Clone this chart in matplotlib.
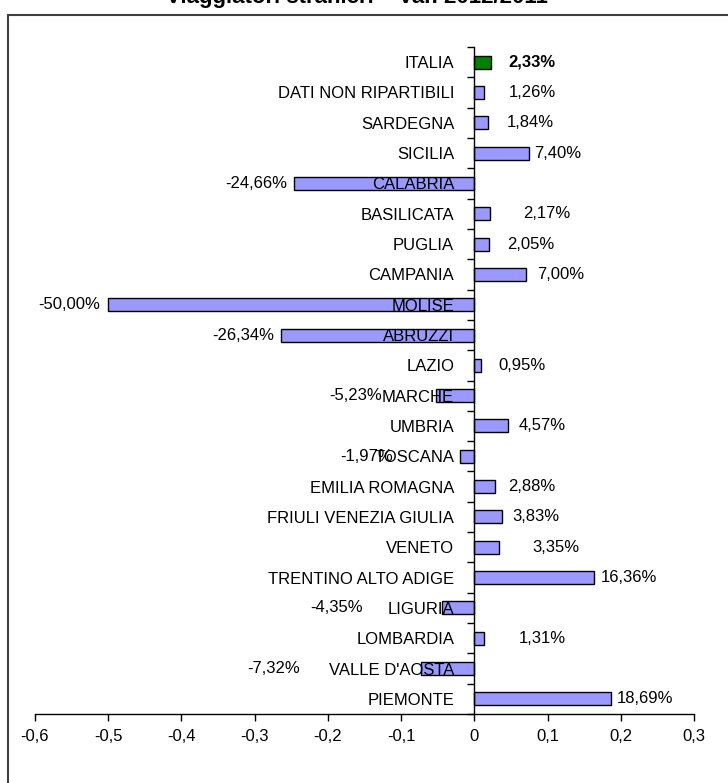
import numpy as np
import matplotlib
matplotlib.use("Agg")
import matplotlib.pyplot as plt
from matplotlib.patches import Rectangle
from matplotlib.ticker import FixedLocator, FuncFormatter

# regions from bottom (PIEMONTE) to top (ITALIA)
regions = ["PIEMONTE", "VALLE D'AOSTA", "LOMBARDIA", "LIGURIA",
           "TRENTINO ALTO ADIGE", "VENETO", "FRIULI VENEZIA GIULIA",
           "EMILIA ROMAGNA", "TOSCANA", "UMBRIA", "MARCHE", "LAZIO",
           "ABRUZZI", "MOLISE", "CAMPANIA", "PUGLIA", "BASILICATA",
           "CALABRIA", "SICILIA", "SARDEGNA", "DATI NON RIPARTIBILI", "ITALIA"]
var_pct = [18.69, -7.32, 1.31, -4.35, 16.36, 3.35, 3.83, 2.88, -1.97, 4.57,
           -5.23, 0.95, -26.34, -50.00, 7.00, 2.05, 2.17, -24.66, 7.40, 1.84,
           1.26, 2.33]
xticks = [-0.6, -0.5, -0.4, -0.3, -0.2, -0.1, 0, 0.1, 0.2, 0.3]
title = "Viaggiatori stranieri \u2013 Var. 2012/2011"

# label distance from bar end (pixels), as placed in the original sheet
label_gap = [6, 121, 35, 80, 7, 33, 10, 13, 67, 11, 54, 17, 7, 8, 12, 18,
             33, 7, 6, 19, 25, 17]

plt.rcParams['font.family'] = ['Liberation Sans', 'DejaVu Sans']

W, H = 728, 783
fig = plt.figure(figsize=(W / 100, H / 100), dpi=100)
ax = fig.add_axes([35 / W, 1 - 714 / H, (694 - 35) / W, (714 - 47) / H])

vals = np.array(var_pct) / 100
ypos = np.arange(len(regions))
cols = ['#9999FF'] * (len(regions) - 1) + ['#008000']
ax.barh(ypos, vals, height=0.43, color=cols, edgecolor='black', linewidth=1.0)

ax.set_xlim(-0.6, 0.3)
ax.set_ylim(-0.5, len(regions) - 0.5)

for s in ['top', 'right']:
    ax.spines[s].set_visible(False)
ax.spines['left'].set_position(('data', 0))
ax.spines['left'].set_linewidth(1.0)
ax.spines['bottom'].set_linewidth(1.0)

ax.xaxis.set_major_locator(FixedLocator(xticks))
ax.xaxis.set_major_formatter(FuncFormatter(
    lambda v, p: '0' if abs(v) < 1e-9 else ('%.1f' % v).replace('.', ',')))
ax.tick_params(axis='x', direction='out', length=5, width=1.0, pad=6, labelsize=12)

ax.yaxis.set_major_locator(FixedLocator(np.arange(len(regions) + 1) - 0.5))
ax.yaxis.set_major_formatter(FuncFormatter(lambda v, p: ''))
ax.yaxis.set_minor_locator(FixedLocator(ypos))
ax.set_yticklabels(regions, minor=True)
ax.tick_params(axis='y', which='major', direction='out', length=5, width=1.0)
ax.tick_params(axis='y', which='minor', length=0, pad=14.5, labelsize=12)

for i, v in enumerate(vals):
    txt = ('%.2f%%' % var_pct[i]).replace('.', ',')
    gap = label_gap[i] * 0.72
    bold = 'bold' if regions[i] == 'ITALIA' else 'normal'
    if v >= 0:
        ax.annotate(txt, (v, i), xytext=(gap, 0), textcoords='offset points',
                    ha='left', va='center', fontsize=12, fontweight=bold)
    else:
        ax.annotate(txt, (v, i), xytext=(-gap, 0), textcoords='offset points',
                    ha='right', va='center', fontsize=12, fontweight=bold)

fig.text(357 / W, 1 - 3 / H, title, ha='center', va='baseline',
         fontsize=16, fontweight='bold')
fig.patches.append(Rectangle((8 / W, -0.05), 1.1, 1 - 15 / H + 0.05,
                             transform=fig.transFigure, fill=False,
                             lw=1.5, ec='#404040'))

fig.savefig('out.png', dpi=100)
